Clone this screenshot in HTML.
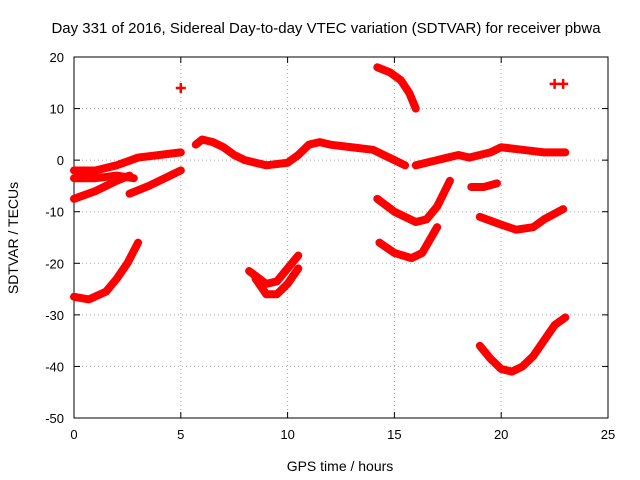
<!DOCTYPE html>
<html><head><meta charset="utf-8"><style>
body{margin:0;background:#fff}
svg{font-family:"Liberation Sans",sans-serif;display:block}
</style></head><body>
<svg width="640" height="480" viewBox="0 0 640 480" xmlns="http://www.w3.org/2000/svg">
<text x="326" y="33" font-size="15" text-anchor="middle">Day 331 of 2016, Sidereal Day-to-day VTEC variation (SDTVAR) for receiver pbwa</text>
<g id="grid"></g>
<g id="axes"></g>
<g id="series"></g>
<text x="340" y="471" font-size="14" text-anchor="middle">GPS time / hours</text>
<text x="18" y="238" font-size="14" text-anchor="middle" transform="rotate(-90 18 238)">SDTVAR / TECUs</text>
</svg>
<script>
const xTicks=[0,5,10,15,20,25];
const yTicks=[20,10,0,-10,-20,-30,-40,-50];
const trackA1=[[0,-2],[1,-2],[2,-1],[3,0.5],[4,1],[5,1.5]];
const trackA2=[[0,-3.5],[1,-3.5],[2,-3],[2.8,-3.5]];
const trackA3=[[5.7,3],[6,4],[6.5,3.5],[7,2.5],[7.5,1],[8,0],[9,-1],[10,-0.5],[10.5,1],[11,3],[11.5,3.5],[12,3],[13,2.5],[14,2],[14.5,1],[15,0],[15.5,-1]];
const trackA4=[[16,-1],[17,0],[17.5,0.5],[18,1],[18.5,0.5],[19,1],[19.5,1.5],[20,2.5],[21,2],[22,1.5],[23,1.5]];
const trackA5=[[18.6,-5.2],[19.2,-5.2],[19.8,-4.5]];
const trackB=[[0,-7.5],[1,-6],[2,-4],[2.6,-3]];
const trackC=[[2.6,-6.5],[3.5,-5],[4.5,-3],[5,-2]];
const trackD=[[0,-26.5],[0.7,-27],[1.5,-25.5],[2,-23],[2.5,-20],[3,-16]];
const trackE=[[8.2,-21.5],[9,-24],[9.5,-23.5],[10,-21],[10.5,-18.5]];
const trackF=[[8.5,-23],[9,-26],[9.5,-26],[10,-24],[10.5,-21]];
const trackG=[[14.2,18],[14.8,17],[15.3,15.5],[15.7,13],[16,10]];
const trackH=[[14.2,-7.5],[15,-10],[16,-12],[16.5,-11.5],[17,-9],[17.6,-4]];
const trackI=[[14.3,-16],[15,-18],[15.8,-19],[16.3,-18],[17,-13]];
const trackJ=[[19,-11],[20,-12.5],[20.7,-13.5],[21.5,-13],[22,-11.5],[22.9,-9.5]];
const trackK=[[19,-36],[19.5,-38.5],[20,-40.5],[20.5,-41],[21,-40],[21.5,-38],[22,-35],[22.5,-32],[23,-30.5]];
const singles=[[5,14],[22.5,14.8],[22.9,14.8]];

const NS="http://www.w3.org/2000/svg";
const X0=74,X1=608,Y0=418,Y1=57;
const xs=v=>X0+(v-0)/25*(X1-X0);
const ys=v=>Y0-(v+50)/70*(Y0-Y1);
function mk(tag,attrs,parent){const e=document.createElementNS(NS,tag);for(const k in attrs)e.setAttribute(k,attrs[k]);parent.appendChild(e);return e;}
const grid=document.getElementById('grid'),axes=document.getElementById('axes'),ser=document.getElementById('series');
xTicks.forEach(t=>{
  const l=mk('line',{x1:xs(t),x2:xs(t),y1:Y1,y2:Y0,stroke:'#aaa','stroke-dasharray':'1,3'},grid);
  
  
  mk('line',{x1:xs(t),x2:xs(t),y1:Y0,y2:Y0-6,stroke:'#000'},axes);
  mk('line',{x1:xs(t),x2:xs(t),y1:Y1,y2:Y1+6,stroke:'#000'},axes);
  const tx=mk('text',{x:xs(t),y:Y0+21,'font-size':13,'text-anchor':'middle'},axes);
  tx.textContent=t;
  
  
});
yTicks.forEach(t=>{
  const l=mk('line',{x1:X0,x2:X1,y1:ys(t),y2:ys(t),stroke:'#aaa','stroke-dasharray':'1,3'},grid);
  
  
  mk('line',{x1:X0,x2:X0+6,y1:ys(t),y2:ys(t),stroke:'#000'},axes);
  mk('line',{x1:X1,x2:X1-6,y1:ys(t),y2:ys(t),stroke:'#000'},axes);
  const tx=mk('text',{x:X0-10,y:ys(t)+5,'font-size':13,'text-anchor':'end'},axes);
  tx.textContent=t;
  
  
});
mk('rect',{x:X0,y:Y1,width:X1-X0,height:Y0-Y1,fill:'none',stroke:'#000'},axes);
const tracks=[trackA1,trackA2,trackA3,trackA4,trackA5,trackB,trackC,trackD,trackE,trackF,trackG,trackH,trackI,trackJ,trackK];
tracks.forEach(tr=>{
  const p=mk('polyline',{points:tr.map(d=>xs(d[0])+','+ys(d[1])).join(' '),fill:'none',stroke:'#f00','stroke-width':8,'stroke-linejoin':'round','stroke-linecap':'round'},ser);
  
  
});
singles.forEach(d=>{
  const x=xs(d[0]),y=ys(d[1]);
  const p=mk('path',{d:`M${x-5},${y}H${x+5}M${x},${y-5}V${y+5}`,stroke:'#f00','stroke-width':2.5},ser);
  
  
});
</script>
</body></html>
